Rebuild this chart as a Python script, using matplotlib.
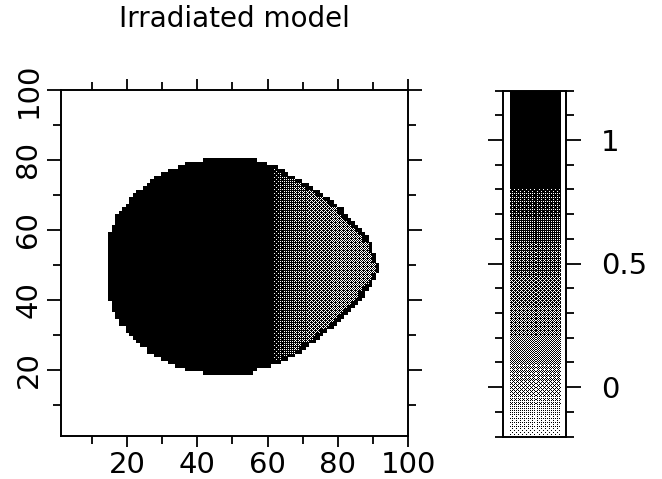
import numpy as np
import matplotlib
matplotlib.use("Agg")
import matplotlib.pyplot as plt
from matplotlib.colors import LinearSegmentedColormap, Normalize
from matplotlib.ticker import MultipleLocator

plt.rcParams["font.family"] = ["DejaVu Sans"]

# rows of the 100x100 grid that hold the body, with first/last filled column
rows = list(range(19, 81))
left_col = [42, 37, 34, 32, 30, 28, 26, 26, 24, 23, 22, 21, 20, 20, 18, 18,
            17, 17, 16, 16, 16, 15, 15, 15, 15, 15, 15, 15, 15, 15, 15, 15,
            15, 15, 15, 15, 15, 15, 15, 15, 15, 16, 16, 17, 17, 17, 18, 19,
            20, 21, 21, 22, 23, 25, 26, 27, 28, 30, 32, 35, 37, 42]
right_col = [55, 56, 60, 63, 65, 67, 69, 70, 71, 73, 74, 75, 76, 78, 79, 80,
             81, 82, 83, 84, 85, 86, 87, 87, 88, 89, 89, 90, 90, 91, 91, 91,
             90, 90, 90, 89, 89, 89, 88, 88, 87, 86, 85, 84, 83, 82, 81, 81,
             79, 78, 77, 75, 74, 72, 71, 69, 67, 65, 64, 62, 59, 56]
# dark rim (cells) on the irradiated edge of each row
rim_width = [2, 2, 2, 2, 2, 2, 2, 2, 2, 2, 2, 2, 2, 2, 2, 2,
             2, 2, 2, 2, 2, 2, 2, 2, 2, 2, 1, 1, 1, 1, 1, 1,
             1, 1, 1, 1, 1, 1, 2, 2, 2, 2, 2, 2, 2, 2, 2, 2,
             2, 2, 2, 2, 2, 2, 2, 2, 2, 2, 2, 2, 2, 2]
first_lit_col = 62
lit_profile = [0.79, 0.76, 0.72, 0.68, 0.64, 0.60, 0.56, 0.52, 0.49, 0.46,
               0.43, 0.41, 0.39, 0.37, 0.35, 0.34, 0.33, 0.32, 0.32, 0.31,
               0.31, 0.31, 0.30, 0.30, 0.30, 0.30, 0.30, 0.30, 0.30, 0.30]
dark_value = 1.0

# grey scale
cmap_values = [-0.2, -0.1, 0.0, 0.1, 0.2, 0.3, 0.4, 0.5, 0.6, 0.7, 0.8, 0.805, 1.2]
cmap_greys = [0.90, 0.75, 0.60, 0.53, 0.47, 0.42, 0.37, 0.32, 0.27, 0.21, 0.15, 0.0, 0.0]
cbar_ticks = [0, 0.5, 1]
cbar_labels = ["0", "0.5", "1"]

vmin, vmax = cmap_values[0], cmap_values[-1]
cmap = LinearSegmentedColormap.from_list(
    "halftone", [((v - vmin) / (vmax - vmin), (g, g, g))
                 for v, g in zip(cmap_values, cmap_greys)])
norm = Normalize(vmin, vmax)

field = np.full((100, 100), np.nan)
for y, l, r, rim in zip(rows, left_col, right_col, rim_width):
    field[y - 1, l - 1:r] = dark_value
    for c in range(first_lit_col, r - rim + 1):
        field[y - 1, c - 1] = lit_profile[c - first_lit_col]

BAYER = np.array([[0, 8, 2, 10], [12, 4, 14, 6],
                  [3, 11, 1, 9], [15, 7, 13, 5]])


def halftone(values):
    """grey through the colour map, then an ordered dither like the print"""
    grey = cmap(norm(values))[..., 0]
    grey = np.where(np.isnan(values), 1.0, grey)
    h, w = grey.shape
    thr = (np.tile(BAYER, (h // 4 + 1, w // 4 + 1))[:h, :w] + 0.5) / 16
    return np.where(1 - grey > thr, 0.0, 1.0)


fig = plt.figure(figsize=(6.62, 4.79), dpi=100, facecolor="white")
ax_px = (60.5, 43, 347.5, 346)  # left, bottom, width, height in pixels
ax = fig.add_axes([ax_px[0] / 662, ax_px[1] / 479, ax_px[2] / 662, ax_px[3] / 479])

# sample the cell grid at screen resolution so the dither is pixel sized
nx, ny = int(ax_px[2]), int(ax_px[3])
xs = 1 + (np.arange(nx) + 0.5) * 99 / nx
ys = 1 + (np.arange(ny) + 0.5) * 99 / ny
ci = np.clip(np.rint(xs).astype(int) - 1, 0, 99)
ri = np.clip(np.rint(ys).astype(int) - 1, 0, 99)
screen = field[ri[::-1]][:, ci]
ax.imshow(halftone(screen), cmap="gray", vmin=0, vmax=1,
          extent=(1, 100, 1, 100), interpolation="nearest", aspect="auto")
ax.set_xlim(1, 100)
ax.set_ylim(1, 100)
ax.xaxis.set_major_locator(MultipleLocator(20))
ax.xaxis.set_minor_locator(MultipleLocator(10))
ax.yaxis.set_major_locator(MultipleLocator(20))
ax.yaxis.set_minor_locator(MultipleLocator(10))
for s in ax.spines.values():
    s.set_linewidth(1.4)
ax.tick_params(which="both", direction="out", top=True, right=True,
               width=1.3, labelsize=21, color="black")
ax.tick_params(axis="x", which="major", length=8, pad=3)
ax.tick_params(axis="y", which="major", length=10, pad=3)
ax.tick_params(which="minor", length=5.5)
for t in ax.get_yticklabels():
    t.set_rotation(90)
    t.set_va("center")

fig.text(234 / 662, 1 - 19 / 479, "Irradiated model", fontsize=20,
         ha="center", va="center")

# colour bar, drawn by hand so the ramp sits inside a wider frame
cb_px = (503, 42.5, 63, 346)
cax = fig.add_axes([cb_px[0] / 662, cb_px[1] / 479, cb_px[2] / 662, cb_px[3] / 479])
ramp_rows = int(cb_px[3])
ramp = vmax - (np.arange(ramp_rows) + 0.5) * (vmax - vmin) / ramp_rows
ramp = np.repeat(ramp.reshape(-1, 1), 50, axis=1)
cax.imshow(halftone(ramp), cmap="gray", vmin=0, vmax=1,
           extent=(0.11, 0.905, vmin, vmax), aspect="auto",
           interpolation="nearest")
cax.set_xlim(0, 1)
cax.set_ylim(vmin, vmax)
cax.set_xticks([])
cax.set_yticks(cbar_ticks)
cax.set_yticklabels(cbar_labels)
cax.yaxis.set_minor_locator(MultipleLocator(0.1))
for s in cax.spines.values():
    s.set_linewidth(1.4)
cax.tick_params(which="both", direction="out", left=True, right=True,
                labelleft=False, labelright=True, width=1.3, labelsize=21)
cax.tick_params(which="major", length=11, pad=14)
cax.tick_params(which="minor", length=5.5)

fig.savefig("out.png", dpi=100, facecolor="white")
